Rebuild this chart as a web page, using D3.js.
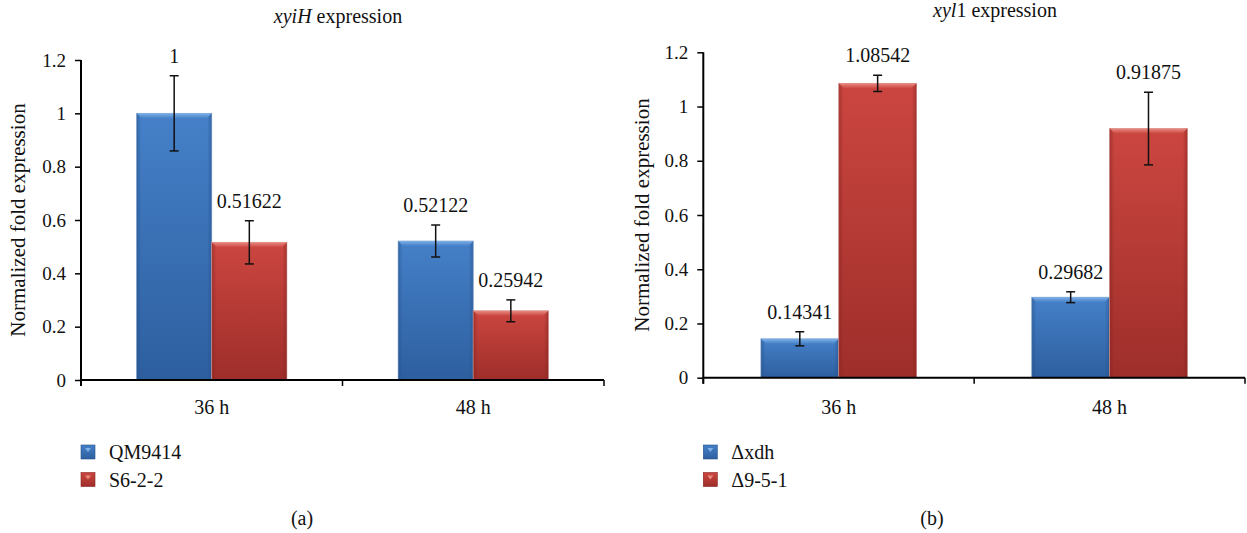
<!DOCTYPE html>
<html>
<head>
<meta charset="utf-8">
<script src="https://cdn.jsdelivr.net/npm/d3@7"></script>
</head>
<body style="margin:0;padding:0;background:#fff">
<svg id="chart" width="1247" height="533" style="display:block;background:#fff"></svg>
<script>
// ---------------- data ----------------
const categories = ["36 h", "48 h"];
const yTicks = [0, 0.2, 0.4, 0.6, 0.8, 1.0, 1.2];

// Panel (a): xyiH expression
const seriesA = ["QM9414", "S6-2-2"];
const valuesA_QM9414 = [1, 0.52122];
const valuesA_S622 = [0.51622, 0.25942];
const errorsA_QM9414 = [0.141, 0.06];
const errorsA_S622 = [0.081, 0.041];
const labelsA_QM9414 = ["1", "0.52122"];
const labelsA_S622 = ["0.51622", "0.25942"];

// Panel (b): xyl1 expression
const seriesB = ["\u0394xdh", "\u03949-5-1"];
const valuesB_xdh = [0.14341, 0.29682];
const valuesB_951 = [1.08542, 0.91875];
const errorsB_xdh = [0.026, 0.02];
const errorsB_951 = [0.03, 0.134];
const labelsB_xdh = ["0.14341", "0.29682"];
const labelsB_951 = ["1.08542", "0.91875"];

// ---------------- styles / layout ----------------
const FONT = "'Liberation Serif', 'Times New Roman', serif";
const palette = {
  blue: { top: "#4580c8", bottom: "#2d5f9f", bevel: "#7eb0e6", edge: "#24508a", outline: "#9fb9da" },
  red:  { top: "#cc4640", bottom: "#9e2e2a", bevel: "#e88a82", edge: "#85221f", outline: "#d9a9a6" }
};
const seriesColors = ["blue", "red"];

const svg = d3.select("#chart");
const defs = svg.append("defs");

Object.entries(palette).forEach(([name, c]) => {
  const g = defs.append("linearGradient").attr("id", "fill-" + name)
    .attr("x1", 0).attr("y1", 0).attr("x2", 0).attr("y2", 1);
  g.append("stop").attr("offset", "0%").attr("stop-color", c.top);
  g.append("stop").attr("offset", "100%").attr("stop-color", c.bottom);
  const h = defs.append("linearGradient").attr("id", "side-" + name)
    .attr("x1", 0).attr("y1", 0).attr("x2", 1).attr("y2", 0);
  h.append("stop").attr("offset", "0%").attr("stop-color", c.edge).attr("stop-opacity", 0.55);
  h.append("stop").attr("offset", "6%").attr("stop-color", c.edge).attr("stop-opacity", 0.0);
  h.append("stop").attr("offset", "94%").attr("stop-color", c.edge).attr("stop-opacity", 0.0);
  h.append("stop").attr("offset", "100%").attr("stop-color", c.edge).attr("stop-opacity", 0.55);
  const b = defs.append("linearGradient").attr("id", "bevel-" + name)
    .attr("x1", 0).attr("y1", 0).attr("x2", 0).attr("y2", 1);
  b.append("stop").attr("offset", "0%").attr("stop-color", c.bevel);
  b.append("stop").attr("offset", "100%").attr("stop-color", c.top);
});

const panels = [
  {
    left: 81, right: 604, top: 60, bottom: 380,
    title: [["xyiH", true], [" expression", false]], titleX: 338, titleY: 23,
    yLabelX: 18, captionX: 302, caption: "(a)",
    series: seriesA,
    values: [valuesA_QM9414, valuesA_S622],
    errors: [errorsA_QM9414, errorsA_S622],
    labels: [labelsA_QM9414, labelsA_S622]
  },
  {
    left: 703.3, right: 1245, top: 52.3, bottom: 377.7,
    title: [["xyl", true], ["1 expression", false]], titleX: 995, titleY: 17,
    yLabelX: 642, captionX: 932, caption: "(b)",
    series: seriesB,
    values: [valuesB_xdh, valuesB_951],
    errors: [errorsB_xdh, errorsB_951],
    labels: [labelsB_xdh, labelsB_951]
  }
];

panels.forEach(p => drawPanel(p));

// force the serif face and colour on every text
svg.selectAll("text").style("font-family", FONT).style("fill", "#111");

function drawPanel(p) {
  const g = svg.append("g");
  const x = d3.scaleBand().domain(categories).range([p.left, p.right]).padding(0);
  const xs = d3.scaleBand().domain(d3.range(p.series.length))
    .range([0, x.bandwidth()]).paddingInner(0).paddingOuter(0.74);
  const y = d3.scaleLinear().domain([0, 1.2]).range([p.bottom, p.top]);

  // title
  const t = g.append("text").attr("x", p.titleX).attr("y", p.titleY)
    .attr("text-anchor", "middle").style("font-size", "20px");
  p.title.forEach(([s, it]) => t.append("tspan").text(s).style("font-style", it ? "italic" : "normal"));

  // y label
  g.append("text")
    .attr("transform", `translate(${p.yLabelX},${(p.top + p.bottom) / 2}) rotate(-90)`)
    .attr("text-anchor", "middle").attr("dy", "0.35em")
    .style("font-size", "21px")
    .text("Normalized fold expression");

  // bars
  const rows = [];
  p.series.forEach((s, si) => {
    categories.forEach((c, ci) => {
      rows.push({ si, ci, c, v: p.values[si][ci], e: p.errors[si][ci], label: p.labels[si][ci] });
    });
  });

  const bars = g.selectAll("g.bar").data(rows).join("g").attr("class", "bar");
  bars.each(function(d) {
    const sel = d3.select(this);
    const col = seriesColors[d.si];
    const x0 = x(d.c) + xs(d.si), w = xs.bandwidth();
    const yt = y(d.v), yb = y(0);
    sel.append("rect").attr("x", x0).attr("y", yt).attr("width", w).attr("height", yb - yt)
      .attr("fill", `url(#fill-${col})`)
      .attr("stroke", palette[col].outline).attr("stroke-width", 0.8);
    sel.append("rect").attr("x", x0).attr("y", yt).attr("width", w).attr("height", yb - yt)
      .attr("fill", `url(#side-${col})`);
    const bv = 5;
    sel.append("path")
      .attr("d", `M${x0},${yt} L${x0 + w},${yt} L${x0 + w - bv},${yt + bv} L${x0 + bv},${yt + bv} Z`)
      .attr("fill", `url(#bevel-${col})`);
  });

  // error bars
  const eb = g.selectAll("g.err").data(rows).join("g").attr("class", "err")
    .attr("stroke", "#111").attr("stroke-width", 1.5);
  eb.each(function(d) {
    const cx = x(d.c) + xs(d.si) + xs.bandwidth() / 2;
    const s = d3.select(this);
    s.append("line").attr("x1", cx).attr("x2", cx).attr("y1", y(d.v + d.e)).attr("y2", y(d.v - d.e));
    [d.v + d.e, d.v - d.e].forEach(v => s.append("line")
      .attr("x1", cx - 4.5).attr("x2", cx + 4.5).attr("y1", y(v)).attr("y2", y(v)));
  });

  // value labels
  g.selectAll("text.val").data(rows).join("text").attr("class", "val")
    .attr("x", d => x(d.c) + xs(d.si) + xs.bandwidth() / 2)
    .attr("y", d => y(d.v + d.e) - 20)
    .attr("dy", "0.35em")
    .attr("text-anchor", "middle").style("font-size", "20px")
    .text(d => d.label);

  // y axis
  const ya = g.append("g").attr("transform", `translate(${p.left},0)`)
    .call(d3.axisLeft(y).tickValues(yTicks).tickSize(6).tickPadding(9)
      .tickFormat(d => String(+d.toFixed(1))));
  ya.attr("font-family", null);
  ya.select(".domain").remove();
  ya.selectAll("line").attr("stroke", "#000").attr("stroke-width", 1.5);
  ya.selectAll("text").style("font-size", "19px");
  g.append("line").attr("x1", p.left).attr("x2", p.left).attr("y1", p.top).attr("y2", p.bottom + 6)
    .attr("stroke", "#000").attr("stroke-width", 2);

  // x axis
  g.append("line").attr("x1", p.left).attr("x2", p.right).attr("y1", p.bottom).attr("y2", p.bottom)
    .attr("stroke", "#000").attr("stroke-width", 2);
  const bounds = categories.map(c => x(c)).concat([x(categories[categories.length - 1]) + x.bandwidth()]);
  g.selectAll("line.xt").data(bounds).join("line").attr("class", "xt")
    .attr("x1", d => d).attr("x2", d => d).attr("y1", p.bottom).attr("y2", p.bottom + 6)
    .attr("stroke", "#000").attr("stroke-width", 1.5);
  g.selectAll("text.cat").data(categories).join("text").attr("class", "cat")
    .attr("x", c => x(c) + x.bandwidth() / 2).attr("y", 407).attr("dy", "0.35em")
    .attr("text-anchor", "middle").style("font-size", "20px")
    .text(c => c);

  // legend
  const lg = g.selectAll("g.leg").data(p.series).join("g").attr("class", "leg")
    .attr("transform", (s, i) => `translate(${p.left},${445 + i * 27.5})`);
  lg.each(function(s, i) {
    const col = seriesColors[i];
    const l = d3.select(this);
    l.append("rect").attr("width", 14).attr("height", 14).attr("fill", `url(#fill-${col})`)
      .attr("stroke", palette[col].edge).attr("stroke-width", 0.6);
    l.append("path").attr("d", "M4,3 L10,3 L7,7 Z").attr("fill", palette[col].bevel);
    l.append("text").attr("x", 28).attr("y", 7).attr("dy", "0.35em")
      .style("font-size", "20px").text(s);
  });

  // caption
  g.append("text").attr("x", p.captionX).attr("y", 518).attr("dy", "0.35em")
    .attr("text-anchor", "middle").style("font-size", "20px").text(p.caption);
}
</script>
</body>
</html>
